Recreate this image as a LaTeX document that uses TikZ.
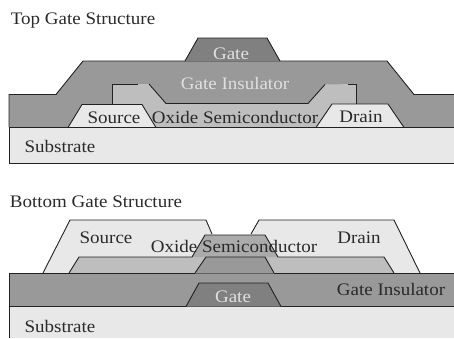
\documentclass[tikz,border=0pt]{standalone}
\usepackage{fontspec}
\setmainfont[FakeStretch=1.08]{Liberation Serif}
\definecolor{subc}{HTML}{E8E8E8}
\definecolor{insc}{HTML}{999999}
\definecolor{oxc}{HTML}{BEBEBE}
\definecolor{mesac}{HTML}{ABABAB}
\definecolor{gatec}{HTML}{808080}
\definecolor{linec}{HTML}{222222}
\definecolor{txtc}{HTML}{2A2A2A}
\tikzset{
  layer/.style={draw=linec,line width=0.9pt,line join=miter},
  lab/.style={inner sep=0pt,font=\fontsize{17.6}{19}\selectfont,text=txtc,anchor=center},
  wlab/.style={lab,text=white!88!black},
}
\begin{document}
\begin{tikzpicture}[x=1pt,y=-1pt]
\useasboundingbox (0,0) rectangle (454,338);
% Top gate
\fill[subc] (9,127.5) rectangle (454,163);
\draw[layer] (454,127.5) -- (9,127.5) -- (9,163) -- (454,163);
\fill[insc] (9,127) -- (9,94.5) -- (56,94.5) -- (83,61) -- (387,61) -- (414,94.5) -- (454,94.5) -- (454,127) -- cycle;
\draw[layer] (9,127) -- (9,94.5) -- (56,94.5) -- (83,61) -- (387,61) -- (414,94.5) -- (454,94.5);
\draw[layer,fill=gatec] (185,61) -- (198,38) -- (267,38) -- (280,61);
\fill[oxc] (112,127) -- (112,84) -- (149,84) -- (166,103.5) -- (308,103.5) -- (325,84.5) -- (356,84) -- (356,127) -- cycle;
\draw[layer] (112,104) -- (112,84) -- (138,84);
\draw[layer] (149,84) -- (166,103.5) -- (308,103.5) -- (325,84.5);
\draw[layer] (348,84) -- (356,84) -- (356,104);
\draw[layer,fill=subc] (68,127.5) -- (82,104.5) -- (142,104.5) -- (156,127.5) -- cycle;
\draw[layer,fill=subc] (316,127.5) -- (332,104) -- (388,104) -- (404,127.5) -- cycle;
\draw[layer] (9,127.5) -- (454,127.5);
\node[lab] (t1) at (83,21) {Top Gate Structure};
\node[wlab] (g1) at (231,54) {Gate};
\node[wlab] (i1) at (235,83) {Gate Insulator};
\node[lab] (s1) at (114,118) {Source};
\node[lab] (o1) at (235,117) {Oxide Semiconductor};
\node[lab] (d1) at (361,117) {Drain};
\node[lab] (u1) at (60,146) {Substrate};
% Bottom gate
\fill[subc] (9,306.5) rectangle (454,338);
\draw[layer] (9,338) -- (9,306.5);
\fill[subc] (43,273) -- (70,220) -- (206,220) -- (215,240) -- (215,273) -- cycle;
\fill[subc] (240,273) -- (251,234) -- (259,220) -- (394,220) -- (420,273) -- cycle;
\draw[layer] (43,273) -- (70,220) -- (206,220) -- (212,234);
\draw[layer] (251,234) -- (259,220) -- (394,220) -- (420,273);
\fill[oxc] (69,273) -- (79,257) -- (192,257) -- (205,235) -- (265,235) -- (278,257) -- (384,257) -- (394,273) -- cycle;
\fill[mesac] (192,257) -- (205,235) -- (265,235) -- (278,257) -- cycle;
\draw[layer] (69,273) -- (79,257) -- (192,257) -- (205,235) -- (265,235) -- (278,257) -- (384,257) -- (394,273);
\fill[insc] (195,273) -- (206,257) -- (265,257) -- (274,273) -- cycle;
\draw[layer] (195,273) -- (206,257) -- (265,257) -- (274,273);
\fill[insc] (9,273) rectangle (454,306.5);
\draw[layer] (195,273) -- (9,273) -- (9,306.5) -- (454,306.5);
\draw[layer] (274,273) -- (454,273);
\draw[draw=gray!75!black,line width=0.5pt] (195,273) -- (274,273);
\draw[layer,fill=gatec] (186,306.5) -- (199,283) -- (268,283) -- (281,306.5);
\node[lab] (t2) at (96,202) {Bottom Gate Structure};
\node[lab] (s2) at (106,238) {Source};
\node[lab] (o2) at (234,246) {Oxide Semiconductor};
\node[lab] (d2) at (359,238) {Drain};
\node[wlab] (g2) at (233,297) {Gate};
\node[lab] (i2) at (391,289) {Gate Insulator};
\node[lab] (u2) at (60,326) {Substrate};
\end{tikzpicture}
\end{document}
